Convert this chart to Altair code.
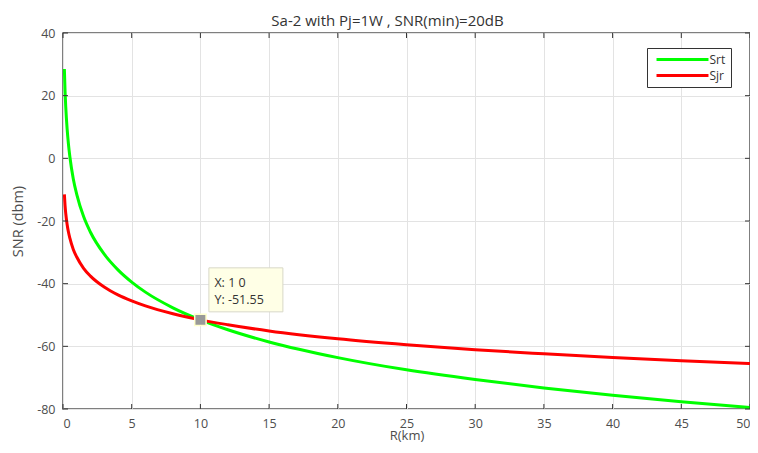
import altair as alt
import pandas as pd

# Values
R_km = [0.1, 0.15, 0.2, 0.3, 0.4, 0.5, 0.75, 1, 1.5, 2, 3, 4, 5, 6, 8, 10, 12, 15, 20, 25, 30, 35, 40, 45, 50]
Srt = [28.5, 21.4, 16.4, 9.4, 4.4, 0.5, -6.6, -11.5, -18.6, -23.6, -30.6, -35.6, -39.5, -42.7, -47.7,
       -51.55, -54.7, -58.6, -63.6, -67.5, -70.6, -73.3, -75.6, -77.7, -79.5]
Sjr = [-11.5, -15.1, -17.6, -21.1, -23.6, -25.5, -29.1, -31.5, -35.1, -37.6, -41.1, -43.6, -45.5, -47.1,
       -49.6, -51.55, -53.1, -55.1, -57.6, -59.5, -61.1, -62.4, -63.6, -64.6, -65.5]

series_names = ["Srt", "Sjr"]
series_colors = ["#00ff00", "#ff0000"]

x_ticks = [0, 5, 10, 15, 20, 25, 30, 35, 40, 45, 50]
y_ticks = [-80, -60, -40, -20, 0, 20, 40]

tip_x = [10]
tip_y = [-51.55]
tip_lines = ["X: 1 0", "Y: -51.55"]

W, H = 687, 376
FONT = "Open Sans"

rows = []
for r, a, b in zip(R_km, Srt, Sjr):
    rows.append({"R": r, "SNR": a, "series": "Srt"})
    rows.append({"R": r, "SNR": b, "series": "Sjr"})
df = pd.DataFrame(rows)

xscale = alt.Scale(domain=[0, 50], nice=False, zero=False)
yscale = alt.Scale(domain=[-80, 40], nice=False, zero=False)

lines = alt.Chart(df).mark_line(strokeWidth=3, interpolate="monotone", clip=True).encode(
    x=alt.X("R:Q", scale=xscale,
            axis=alt.Axis(title="R(km)", values=x_ticks, ticks=False, domain=False,
                          labelExpr="toString(datum.value)", titleFontSize=13,
                          grid=True, gridColor="#e3e3e3", labelPadding=8, titlePadding=0)),
    y=alt.Y("SNR:Q", scale=yscale,
            axis=alt.Axis(title="SNR (dbm)", values=y_ticks, ticks=False, domain=False,
                          labelExpr="toString(datum.value)",
                          grid=True, gridColor="#e3e3e3", labelPadding=8, titlePadding=11)),
    color=alt.Color("series:N",
                    scale=alt.Scale(domain=series_names, range=series_colors),
                    sort=series_names,
                    legend=alt.Legend(title=None, orient="none", legendX=584, legendY=15,
                                      symbolType="M-6,0H6", symbolStrokeWidth=3, symbolSize=75,
                                      symbolOffset=24, labelOffset=21,
                                      strokeColor="#333333", fillColor="white", padding=5.5,
                                      labelFont=FONT, labelFontSize=12, labelColor="#333333",
                                      rowPadding=4)),
)

xt = pd.DataFrame({"t": x_ticks})
yt = pd.DataFrame({"t": y_ticks})
tick_color = "#333333"
xb = alt.Chart(xt).mark_rule(color=tick_color).encode(x=alt.X("t:Q", scale=xscale), y=alt.value(H), y2=alt.value(H - 5))
xtp = alt.Chart(xt).mark_rule(color=tick_color).encode(x=alt.X("t:Q", scale=xscale), y=alt.value(0), y2=alt.value(5))
yl = alt.Chart(yt).mark_rule(color=tick_color).encode(y=alt.Y("t:Q", scale=yscale), x=alt.value(0), x2=alt.value(5))
yr = alt.Chart(yt).mark_rule(color=tick_color).encode(y=alt.Y("t:Q", scale=yscale), x=alt.value(W), x2=alt.value(W - 5))

tip = pd.DataFrame({"R": tip_x, "SNR": tip_y, "l1": [tip_lines[0]], "l2": [tip_lines[1]]})
box = alt.Chart(tip).mark_rect(width=74, height=44, xOffset=45.5, yOffset=-30,
                               fill="#ffffe6", stroke="#d8d8c8", strokeWidth=1).encode(
    x=alt.X("R:Q", scale=xscale), y=alt.Y("SNR:Q", scale=yscale))
t1 = alt.Chart(tip).mark_text(align="left", baseline="alphabetic", dx=14, dy=-33,
                              font=FONT, fontSize=12.5, color="#333333").encode(
    x=alt.X("R:Q", scale=xscale), y=alt.Y("SNR:Q", scale=yscale), text="l1:N")
t2 = alt.Chart(tip).mark_text(align="left", baseline="alphabetic", dx=14, dy=-16,
                              font=FONT, fontSize=12.5, color="#333333").encode(
    x=alt.X("R:Q", scale=xscale), y=alt.Y("SNR:Q", scale=yscale), text="l2:N")
marker = alt.Chart(tip).mark_square(size=130, fill="#999999", stroke="#ffffcc", strokeWidth=1.5, opacity=1).encode(
    x=alt.X("R:Q", scale=xscale), y=alt.Y("SNR:Q", scale=yscale))

chart = alt.layer(lines, xb, xtp, yl, yr, box, t1, t2, marker).properties(
    width=W, height=H,
    title=alt.Title("Sa-2 with Pj=1W , SNR(min)=20dB", font=FONT, fontSize=15,
                    fontWeight="normal", color="#333333", offset=-2, frame="group", dx=-19),
    autosize=alt.AutoSizeParams(type="none"),
    padding={"left": 55, "top": 25, "right": 0, "bottom": 36},
).configure_view(stroke="#555555", strokeWidth=1.5).configure_axis(
    labelFont=FONT, labelFontSize=12.5, labelColor="#4d4d4d",
    titleFont=FONT, titleFontSize=14.5, titleFontWeight="normal", titleColor="#4d4d4d",
)

chart.save("out.html", embed_options={"renderer": "svg", "actions": False})
